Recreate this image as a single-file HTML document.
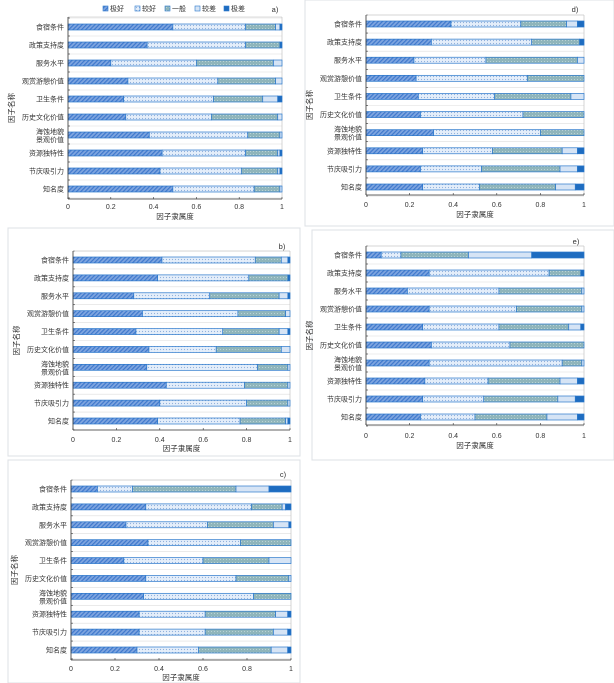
<!DOCTYPE html>
<html><head><meta charset="utf-8"><style>
html,body{margin:0;padding:0;background:#fff;}
svg{display:block;font-family:"Liberation Sans","Noto Sans CJK SC",sans-serif;}
</style></head><body>
<svg id="s" width="614" height="683" viewBox="0 0 614 683" xmlns="http://www.w3.org/2000/svg">
<defs>
<pattern id="p0" width="3" height="3" patternUnits="userSpaceOnUse" patternTransform="rotate(45)"><rect width="3" height="3" fill="#7fa6e0"/><rect width="1.2" height="3" fill="#3f78cc"/></pattern>
<pattern id="p1" width="3" height="3" patternUnits="userSpaceOnUse"><rect width="3" height="3" fill="#e4eefa"/><circle cx="1.5" cy="1.5" r="0.6" fill="#8fb0dc"/></pattern>
<pattern id="p2" width="3" height="3" patternUnits="userSpaceOnUse"><rect width="3" height="3" fill="#8fb5bb"/><rect x="1" y="1" width="1" height="1" fill="#b9d2d5"/></pattern>
<pattern id="p3" width="3" height="3" patternUnits="userSpaceOnUse"><rect width="3" height="3" fill="#d6e4f5"/></pattern>
<pattern id="p4" width="3" height="3" patternUnits="userSpaceOnUse"><rect width="3" height="3" fill="#1e6cc0"/></pattern>
</defs>
<g id="g"></g>
</svg>
<script>
var labels=["食宿条件","政策支持度","服务水平","观赏游憩价值","卫生条件","历史文化价值","海蚀地貌|景观价值","资源独特性","节庆吸引力","知名度"];
var P=[
{n:"a)",x0:68,x1:282,top:17,bot:199,b0:27,b9:189,tk:209,xl:219,lx:275,ly:12,legend:true,frame:null,
d:[[.49,.83,.97,.99],[.37,.83,.99,.99],[.20,.60,.96,1],[.28,.70,.97,1],[.26,.68,.91,.98],[.27,.67,.98,1],[.38,.84,.99,1],[.44,.83,.98,.99],[.43,.81,.98,.99],[.49,.87,.99,1]]},
{n:"d)",x0:366,x1:584,top:15,bot:195,b0:24,b9:187,tk:207,xl:217,lx:575,ly:12,frame:[305,0,309,226],
d:[[.39,.71,.92,.97],[.30,.76,.98,.98],[.22,.55,.97,1],[.23,.74,1,1],[.24,.59,.94,1],[.25,.72,1,1],[.31,.80,1,1],[.26,.58,.90,.97],[.25,.53,.89,.97],[.26,.52,.87,.96]]},
{n:"b)",x0:73,x1:290,top:251,bot:430,b0:260,b9:421,tk:442,xl:451,lx:282,ly:249,frame:[8,228,292,228],
d:[[.41,.84,.96,.99],[.39,.81,.99,.99],[.28,.63,.95,.99],[.32,.76,.98,1],[.29,.69,.95,.99],[.35,.66,.96,1],[.34,.85,.99,1],[.43,.79,.99,1],[.40,.80,.99,1],[.39,.77,.98,.99]]},
{n:"e)",x0:366,x1:584,top:246,bot:425,b0:255,b9:417,tk:438,xl:448,lx:576,ly:244,frame:[312,230,302,230],
d:[[.07,.16,.47,.76],[.29,.84,.985,.985],[.19,.61,.99,1],[.29,.69,.99,1],[.26,.61,.93,.985],[.30,.66,1,1],[.29,.90,.99,1],[.27,.56,.89,.97],[.26,.54,.88,.96],[.25,.50,.83,.97]]},
{n:"c)",x0:71,x1:291,top:480,bot:660,b0:489,b9:650,tk:671,xl:680,lx:283,ly:477,frame:[8,460,292,223],
d:[[.12,.28,.75,.90],[.34,.82,.96,.975],[.25,.62,.92,.99],[.35,.77,1,1],[.24,.60,.90,1],[.34,.75,.99,1],[.33,.83,1,1],[.31,.61,.93,.985],[.31,.61,.92,.985],[.30,.58,.91,.985]]}
];
var h="";
function T(x,y,s,fs,anc,extra){return '<text x="'+x+'" y="'+y+'" font-size="'+fs+'" text-anchor="'+(anc||"start")+'" fill="#333" '+(extra||"")+'>'+s+'</text>';}
P.forEach(function(p){
 if(p.frame){var f=p.frame;h+='<rect x="'+f[0]+'" y="'+f[1]+'" width="'+f[2]+'" height="'+f[3]+'" fill="none" stroke="#dde0e5" stroke-width="1"/>';}
 var W=p.x1-p.x0, sp=(p.b9-p.b0)/9;
 for(var i=0;i<=10;i++){var y=p.b0-sp/2+i*sp; if(y<p.top)y=p.top; h+='<line x1="'+p.x0+'" x2="'+p.x1+'" y1="'+y+'" y2="'+y+'" stroke="#ddd" stroke-width="0.6"/>';
  h+='<line x1="'+p.x0+'" x2="'+(p.x0+2)+'" y1="'+y+'" y2="'+y+'" stroke="#333" stroke-width="0.6"/>';}
 h+='<line x1="'+p.x0+'" x2="'+p.x1+'" y1="'+p.top+'" y2="'+p.top+'" stroke="#bbb" stroke-width="0.6"/>';
 h+='<line x1="'+p.x1+'" x2="'+p.x1+'" y1="'+p.top+'" y2="'+p.bot+'" stroke="#bbb" stroke-width="0.6"/>';
 p.d.forEach(function(r,k){
  var y=p.b0+k*sp, c=[0].concat(r).concat([1]);
  for(var j=0;j<5;j++){var a=p.x0+c[j]*W,b=p.x0+c[j+1]*W; if(b-a<0.1)continue;
   h+='<rect x="'+a+'" y="'+(y-3)+'" width="'+(b-a)+'" height="6" fill="url(#p'+j+')" stroke="#2a78cc" stroke-width="0.7"/>';}
  var L=labels[k].split("|");
  if(L.length==1)h+=T(p.x0-4,y+2.5,L[0],7,"end");
  else{h+=T(p.x0-4,y-1,L[0],7,"end");h+=T(p.x0-4,y+7,L[1],7,"end");}
 });
 h+='<line x1="'+p.x0+'" x2="'+p.x0+'" y1="'+p.top+'" y2="'+p.bot+'" stroke="#333" stroke-width="0.8"/>';
 h+='<line x1="'+p.x0+'" x2="'+p.x1+'" y1="'+p.bot+'" y2="'+p.bot+'" stroke="#333" stroke-width="0.8"/>';
 [0,.2,.4,.6,.8,1].forEach(function(v){var x=p.x0+v*W;
  h+='<line x1="'+x+'" x2="'+x+'" y1="'+p.bot+'" y2="'+(p.bot-2)+'" stroke="#333" stroke-width="0.6"/>';
  h+=T(x,p.tk,v==0?"0":v==1?"1":v.toFixed(1),7,"middle");});
 h+=T((p.x0+p.x1)/2,p.xl,"因子隶属度",7.5,"middle");
 var cy=(p.top+p.bot)/2, lxp=p.x0-54;
 h+=T(lxp,cy,"因子名称",7.5,"middle",'transform="rotate(-90 '+lxp+' '+cy+')"');
 h+=T(p.lx,p.ly,p.n,7.5,"middle");
 if(p.legend){var nm=["极好","较好","一般","较差","极差"],xs=[103,135,165,195,224];
  nm.forEach(function(s,j){h+='<rect x="'+xs[j]+'" y="6" width="5" height="5" fill="url(#p'+j+')" stroke="#2a78cc" stroke-width="0.6"/>';h+=T(xs[j]+7,11,s,7);});}
});
document.getElementById("g").innerHTML=h;
</script>
</body></html>
